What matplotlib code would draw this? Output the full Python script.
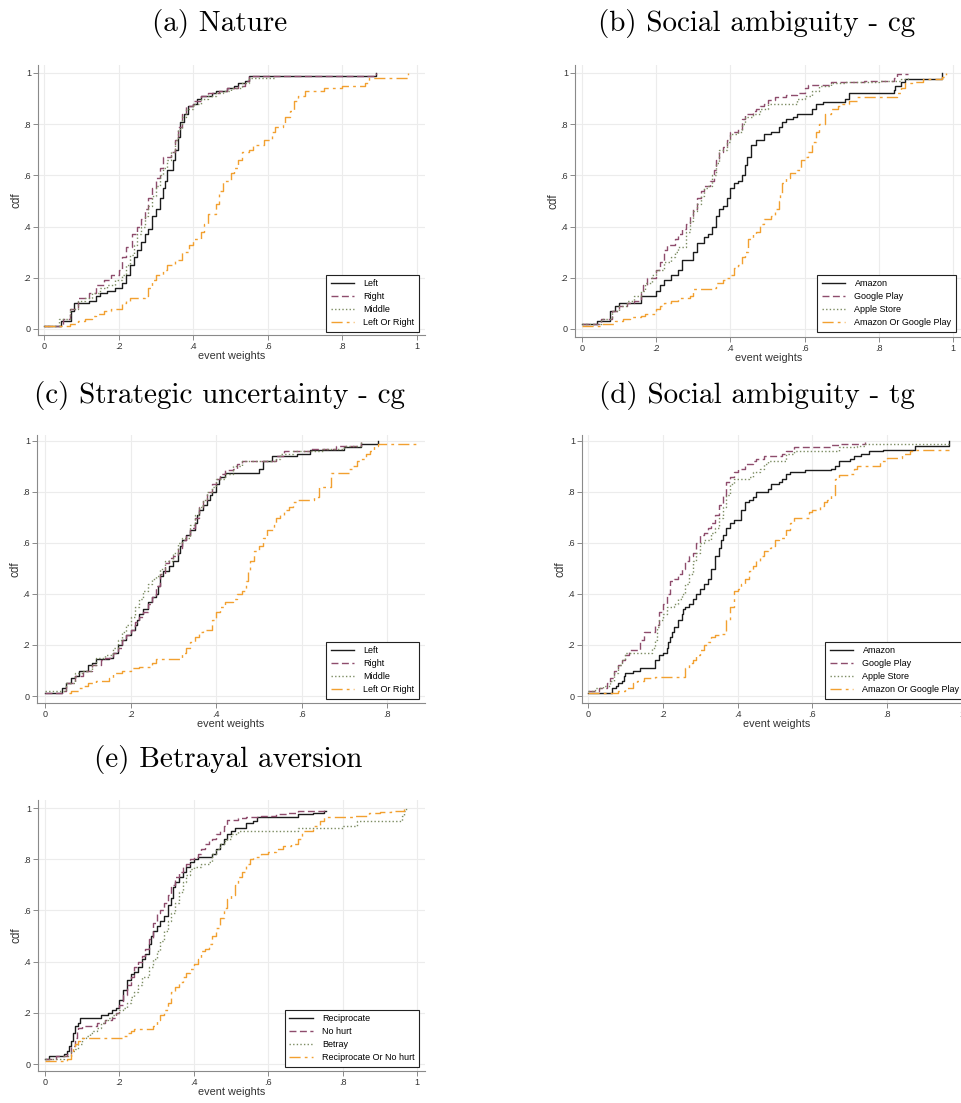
import matplotlib
matplotlib.use('Agg')
import matplotlib.pyplot as plt

# ---- data: empirical cdf steps (x = event weight, y = cdf) ----
# (a) Nature
a_left_x = [0, 0.045, 0.072, 0.08, 0.12, 0.14, 0.15, 0.17, 0.19, 0.21, 0.22, 0.23, 0.24, 0.25, 0.26, 0.27, 0.28, 0.29, 0.30, 0.31,
            0.32, 0.325, 0.33, 0.345, 0.35, 0.36, 0.365, 0.375, 0.385, 0.40, 0.41, 0.42, 0.45, 0.46, 0.49, 0.51, 0.52, 0.54, 0.55, 0.89]
a_left_y = [0.01, 0.03, 0.07, 0.10, 0.11, 0.13, 0.14, 0.15, 0.16, 0.18, 0.21, 0.25, 0.28, 0.31, 0.34, 0.37, 0.39, 0.44, 0.47, 0.51,
            0.55, 0.58, 0.62, 0.66, 0.70, 0.75, 0.81, 0.84, 0.87, 0.88, 0.90, 0.91, 0.92, 0.93, 0.94, 0.95, 0.96, 0.97, 0.99, 1.0]
a_right_x = [0, 0.05, 0.07, 0.09, 0.12, 0.14, 0.16, 0.18, 0.20, 0.21, 0.22, 0.235, 0.25, 0.26, 0.27, 0.28, 0.29, 0.30, 0.31, 0.32,
             0.34, 0.35, 0.36, 0.37, 0.38, 0.40, 0.42, 0.44, 0.47, 0.49, 0.52, 0.54, 0.55, 0.89]
a_right_y = [0.01, 0.04, 0.08, 0.12, 0.14, 0.17, 0.19, 0.21, 0.23, 0.28, 0.32, 0.37, 0.40, 0.43, 0.47, 0.51, 0.55, 0.59, 0.63, 0.67,
             0.69, 0.74, 0.79, 0.84, 0.87, 0.89, 0.91, 0.92, 0.93, 0.94, 0.95, 0.97, 0.99, 1.0]
a_mid_x = [0, 0.04, 0.07, 0.09, 0.11, 0.13, 0.15, 0.17, 0.19, 0.21, 0.22, 0.23, 0.24, 0.25, 0.26, 0.27, 0.28, 0.29, 0.30, 0.31,
           0.32, 0.33, 0.34, 0.35, 0.36, 0.37, 0.38, 0.40, 0.42, 0.44, 0.46, 0.48, 0.50, 0.53, 0.55, 0.62]
a_mid_y = [0.01, 0.04, 0.08, 0.11, 0.12, 0.14, 0.16, 0.17, 0.19, 0.21, 0.25, 0.29, 0.33, 0.37, 0.40, 0.44, 0.48, 0.52, 0.56, 0.60,
           0.63, 0.66, 0.69, 0.74, 0.78, 0.83, 0.86, 0.88, 0.90, 0.91, 0.92, 0.93, 0.94, 0.96, 0.98, 0.98]
a_or_x = [0, 0.06, 0.07, 0.09, 0.11, 0.13, 0.14, 0.16, 0.18, 0.21, 0.22, 0.23, 0.27, 0.28, 0.29, 0.30, 0.32, 0.33, 0.35, 0.37,
          0.39, 0.40, 0.42, 0.43, 0.44, 0.46, 0.47, 0.48, 0.50, 0.51, 0.52, 0.53, 0.55, 0.56, 0.59, 0.61, 0.62, 0.64, 0.645, 0.66,
          0.67, 0.68, 0.70, 0.75, 0.80, 0.86, 0.87, 0.975]
a_or_y = [0.01, 0.01, 0.02, 0.03, 0.04, 0.05, 0.06, 0.07, 0.08, 0.10, 0.11, 0.12, 0.13, 0.16, 0.19, 0.21, 0.23, 0.25, 0.27, 0.30,
          0.33, 0.35, 0.38, 0.41, 0.45, 0.49, 0.54, 0.58, 0.61, 0.63, 0.66, 0.69, 0.70, 0.72, 0.74, 0.77, 0.79, 0.80, 0.83, 0.85,
          0.89, 0.91, 0.93, 0.94, 0.95, 0.96, 0.98, 1.0]

# (b) Social ambiguity - cg
b_amz_x = [0, 0.04, 0.075, 0.09, 0.10, 0.16, 0.20, 0.21, 0.22, 0.24, 0.26, 0.27, 0.30, 0.31, 0.33, 0.34, 0.35, 0.36, 0.37, 0.38,
           0.39, 0.40, 0.41, 0.42, 0.43, 0.44, 0.445, 0.455, 0.47, 0.49, 0.51, 0.53, 0.54, 0.55, 0.57, 0.58, 0.62, 0.63, 0.65, 0.71,
           0.72, 0.84, 0.845, 0.86, 0.87, 0.97]
b_amz_y = [0.02, 0.03, 0.07, 0.09, 0.10, 0.13, 0.15, 0.17, 0.19, 0.21, 0.23, 0.27, 0.30, 0.335, 0.36, 0.37, 0.40, 0.44, 0.47, 0.48,
           0.51, 0.55, 0.57, 0.58, 0.60, 0.64, 0.67, 0.72, 0.74, 0.76, 0.77, 0.79, 0.81, 0.82, 0.83, 0.84, 0.86, 0.88, 0.885, 0.90,
           0.92, 0.935, 0.95, 0.965, 0.975, 1.0]
b_gp_x = [0, 0.05, 0.08, 0.10, 0.12, 0.14, 0.16, 0.165, 0.175, 0.20, 0.21, 0.22, 0.23, 0.25, 0.26, 0.27, 0.28, 0.29, 0.30, 0.31,
          0.32, 0.33, 0.345, 0.355, 0.36, 0.37, 0.38, 0.39, 0.40, 0.42, 0.43, 0.44, 0.46, 0.47, 0.48, 0.49, 0.50, 0.52, 0.55, 0.58,
          0.60, 0.61, 0.67, 0.76, 0.84, 0.85, 0.88]
b_gp_y = [0.02, 0.04, 0.07, 0.09, 0.10, 0.11, 0.14, 0.17, 0.20, 0.23, 0.26, 0.31, 0.33, 0.35, 0.37, 0.39, 0.41, 0.44, 0.47, 0.51,
          0.54, 0.56, 0.58, 0.62, 0.66, 0.69, 0.71, 0.74, 0.77, 0.78, 0.82, 0.84, 0.85, 0.86, 0.87, 0.88, 0.895, 0.905, 0.915, 0.92,
          0.94, 0.955, 0.965, 0.97, 0.98, 0.995, 0.995]
b_as_x = [0, 0.05, 0.08, 0.10, 0.12, 0.14, 0.16, 0.17, 0.19, 0.20, 0.22, 0.24, 0.25, 0.26, 0.28, 0.29, 0.30, 0.31, 0.32, 0.33,
          0.34, 0.35, 0.36, 0.37, 0.39, 0.40, 0.42, 0.43, 0.44, 0.46, 0.48, 0.50, 0.58, 0.60, 0.62, 0.64, 0.67, 0.71, 0.80, 0.86,
          0.88]
b_as_y = [0.02, 0.04, 0.07, 0.09, 0.11, 0.13, 0.15, 0.18, 0.21, 0.23, 0.26, 0.28, 0.30, 0.32, 0.38, 0.42, 0.46, 0.49, 0.52, 0.55,
          0.56, 0.60, 0.65, 0.70, 0.73, 0.76, 0.77, 0.80, 0.83, 0.84, 0.86, 0.88, 0.90, 0.91, 0.93, 0.95, 0.96, 0.965, 0.97, 0.975,
          0.98]
b_or_x = [0, 0.055, 0.09, 0.11, 0.13, 0.16, 0.17, 0.20, 0.21, 0.22, 0.24, 0.26, 0.29, 0.30, 0.35, 0.36, 0.38, 0.39, 0.40, 0.41,
          0.42, 0.43, 0.44, 0.448, 0.46, 0.47, 0.48, 0.49, 0.51, 0.52, 0.53, 0.535, 0.54, 0.55, 0.56, 0.58, 0.59, 0.60, 0.61, 0.62,
          0.63, 0.64, 0.655, 0.67, 0.69, 0.70, 0.72, 0.74, 0.85, 0.86, 0.87, 0.89, 0.92, 0.97, 0.98]
b_or_y = [0.01, 0.02, 0.03, 0.04, 0.045, 0.05, 0.06, 0.08, 0.09, 0.10, 0.11, 0.12, 0.13, 0.155, 0.16, 0.18, 0.19, 0.20, 0.21, 0.24,
          0.25, 0.28, 0.30, 0.35, 0.37, 0.38, 0.41, 0.43, 0.44, 0.47, 0.50, 0.53, 0.57, 0.59, 0.61, 0.62, 0.66, 0.67, 0.69, 0.73,
          0.77, 0.80, 0.84, 0.86, 0.87, 0.88, 0.89, 0.905, 0.92, 0.94, 0.96, 0.965, 0.975, 0.985, 1.0]

# (c) Strategic uncertainty - cg
c_left_x = [0, 0.04, 0.05, 0.06, 0.07, 0.08, 0.10, 0.11, 0.12, 0.15, 0.16, 0.17, 0.18, 0.19, 0.20, 0.21, 0.215, 0.22, 0.23, 0.24,
            0.25, 0.26, 0.265, 0.27, 0.277, 0.29, 0.30, 0.31, 0.315, 0.32, 0.33, 0.34, 0.35, 0.355, 0.36, 0.37, 0.38, 0.385, 0.39, 0.40,
            0.406, 0.41, 0.42, 0.50, 0.51, 0.53, 0.59, 0.62, 0.70, 0.74, 0.78]
c_left_y = [0.01, 0.03, 0.05, 0.07, 0.08, 0.10, 0.12, 0.13, 0.145, 0.15, 0.17, 0.20, 0.22, 0.24, 0.26, 0.28, 0.30, 0.32, 0.34, 0.37,
            0.39, 0.40, 0.43, 0.47, 0.49, 0.51, 0.53, 0.56, 0.59, 0.61, 0.63, 0.65, 0.68, 0.71, 0.73, 0.75, 0.77, 0.79, 0.80, 0.83,
            0.85, 0.86, 0.875, 0.89, 0.92, 0.94, 0.95, 0.963, 0.975, 0.99, 1.0]
c_right_x = [0, 0.04, 0.05, 0.07, 0.09, 0.11, 0.13, 0.14, 0.16, 0.17, 0.18, 0.19, 0.20, 0.21, 0.22, 0.23, 0.24, 0.25, 0.26, 0.27,
             0.28, 0.29, 0.30, 0.31, 0.32, 0.33, 0.34, 0.35, 0.36, 0.37, 0.38, 0.39, 0.40, 0.41, 0.42, 0.44, 0.45, 0.46, 0.54, 0.56,
             0.62, 0.68, 0.74]
c_right_y = [0.01, 0.02, 0.05, 0.08, 0.10, 0.12, 0.14, 0.15, 0.17, 0.19, 0.22, 0.24, 0.26, 0.29, 0.31, 0.33, 0.36, 0.39, 0.43, 0.48,
             0.52, 0.54, 0.55, 0.58, 0.61, 0.63, 0.66, 0.70, 0.74, 0.77, 0.80, 0.83, 0.85, 0.87, 0.885, 0.89, 0.91, 0.92, 0.94, 0.96,
             0.97, 0.98, 0.995]
c_mid_x = [0, 0.03, 0.05, 0.07, 0.09, 0.11, 0.12, 0.14, 0.16, 0.17, 0.18, 0.19, 0.20, 0.21, 0.22, 0.23, 0.24, 0.25, 0.26, 0.27,
           0.28, 0.30, 0.31, 0.32, 0.34, 0.35, 0.36, 0.37, 0.38, 0.39, 0.40, 0.42, 0.44, 0.46, 0.54, 0.55, 0.58, 0.65, 0.70, 0.74]
c_mid_y = [0.02, 0.02, 0.05, 0.09, 0.10, 0.12, 0.15, 0.16, 0.19, 0.22, 0.25, 0.28, 0.31, 0.35, 0.38, 0.41, 0.44, 0.46, 0.47, 0.50,
           0.53, 0.56, 0.60, 0.62, 0.67, 0.71, 0.74, 0.77, 0.80, 0.82, 0.85, 0.87, 0.90, 0.92, 0.93, 0.95, 0.96, 0.97, 0.98, 0.995]
c_or_x = [0.055, 0.06, 0.08, 0.09, 0.10, 0.12, 0.15, 0.16, 0.18, 0.20, 0.22, 0.25, 0.26, 0.32, 0.33, 0.34, 0.35, 0.36, 0.37, 0.39,
          0.40, 0.41, 0.42, 0.44, 0.45, 0.46, 0.47, 0.475, 0.48, 0.49, 0.50, 0.51, 0.52, 0.535, 0.54, 0.55, 0.56, 0.57, 0.58, 0.59,
          0.63, 0.64, 0.67, 0.71, 0.72, 0.73, 0.74, 0.75, 0.76, 0.77, 0.78, 0.87]
c_or_y = [0.01, 0.02, 0.03, 0.04, 0.05, 0.06, 0.07, 0.09, 0.10, 0.11, 0.115, 0.13, 0.145, 0.17, 0.19, 0.21, 0.23, 0.25, 0.26, 0.30,
          0.33, 0.35, 0.37, 0.38, 0.40, 0.41, 0.45, 0.49, 0.53, 0.57, 0.59, 0.62, 0.65, 0.67, 0.70, 0.71, 0.73, 0.74, 0.76, 0.77,
          0.78, 0.82, 0.875, 0.89, 0.90, 0.92, 0.93, 0.95, 0.96, 0.98, 0.99, 1.0]

# (d) Social ambiguity - tg
d_amz_x = [0, 0.065, 0.075, 0.08, 0.09, 0.095, 0.10, 0.12, 0.14, 0.18, 0.19, 0.20, 0.21, 0.215, 0.22, 0.225, 0.23, 0.24, 0.25, 0.255,
           0.26, 0.27, 0.28, 0.29, 0.30, 0.31, 0.32, 0.33, 0.34, 0.35, 0.355, 0.36, 0.37, 0.38, 0.39, 0.41, 0.42, 0.43, 0.44, 0.45,
           0.48, 0.49, 0.51, 0.52, 0.53, 0.54, 0.58, 0.65, 0.66, 0.67, 0.70, 0.71, 0.73, 0.75, 0.79, 0.875, 0.965]
d_amz_y = [0.01, 0.03, 0.04, 0.05, 0.06, 0.08, 0.09, 0.10, 0.11, 0.14, 0.16, 0.17, 0.19, 0.21, 0.23, 0.25, 0.27, 0.30, 0.32, 0.34,
           0.35, 0.36, 0.38, 0.40, 0.42, 0.44, 0.46, 0.50, 0.55, 0.58, 0.61, 0.63, 0.66, 0.68, 0.69, 0.73, 0.76, 0.77, 0.78, 0.80,
           0.81, 0.83, 0.84, 0.85, 0.87, 0.88, 0.885, 0.89, 0.90, 0.92, 0.93, 0.94, 0.95, 0.96, 0.966, 0.979, 1.0]
d_gp_x = [0, 0.03, 0.05, 0.06, 0.07, 0.08, 0.09, 0.10, 0.11, 0.14, 0.15, 0.18, 0.19, 0.20, 0.21, 0.22, 0.23, 0.24, 0.25, 0.26,
          0.27, 0.28, 0.29, 0.30, 0.31, 0.32, 0.33, 0.34, 0.35, 0.36, 0.37, 0.38, 0.39, 0.40, 0.42, 0.44, 0.45, 0.47, 0.52, 0.53,
          0.55, 0.65, 0.67, 0.74]
d_gp_y = [0.02, 0.03, 0.05, 0.07, 0.10, 0.12, 0.14, 0.16, 0.18, 0.22, 0.25, 0.28, 0.33, 0.36, 0.40, 0.45, 0.46, 0.48, 0.50, 0.53,
          0.55, 0.56, 0.60, 0.63, 0.64, 0.66, 0.68, 0.71, 0.75, 0.79, 0.84, 0.86, 0.88, 0.89, 0.91, 0.92, 0.93, 0.94, 0.95, 0.96,
          0.975, 0.985, 0.99, 0.995]
d_as_x = [0, 0.02, 0.04, 0.06, 0.07, 0.08, 0.09, 0.10, 0.17, 0.18, 0.185, 0.19, 0.20, 0.21, 0.23, 0.24, 0.25, 0.26, 0.27, 0.28,
          0.29, 0.30, 0.31, 0.33, 0.34, 0.35, 0.36, 0.37, 0.38, 0.39, 0.43, 0.44, 0.46, 0.47, 0.48, 0.53, 0.55, 0.67, 0.72, 0.74,
          0.965]
d_as_y = [0.02, 0.03, 0.04, 0.06, 0.09, 0.12, 0.14, 0.17, 0.19, 0.22, 0.27, 0.30, 0.32, 0.35, 0.36, 0.38, 0.40, 0.44, 0.48, 0.53,
          0.56, 0.60, 0.61, 0.64, 0.66, 0.70, 0.74, 0.79, 0.83, 0.85, 0.86, 0.88, 0.89, 0.91, 0.92, 0.95, 0.96, 0.975, 0.98, 0.99,
          0.99]
d_or_x = [0, 0.08, 0.10, 0.12, 0.13, 0.15, 0.18, 0.26, 0.27, 0.28, 0.29, 0.30, 0.31, 0.32, 0.33, 0.34, 0.35, 0.37, 0.38, 0.39,
          0.40, 0.41, 0.42, 0.43, 0.44, 0.45, 0.46, 0.47, 0.48, 0.49, 0.50, 0.51, 0.53, 0.54, 0.55, 0.59, 0.60, 0.62, 0.63, 0.64,
          0.65, 0.66, 0.67, 0.70, 0.71, 0.72, 0.78, 0.80, 0.84, 0.86, 0.87, 0.965]
d_or_y = [0.01, 0.02, 0.03, 0.05, 0.06, 0.07, 0.076, 0.11, 0.13, 0.14, 0.16, 0.18, 0.20, 0.21, 0.23, 0.24, 0.245, 0.30, 0.35, 0.41,
          0.42, 0.44, 0.46, 0.49, 0.51, 0.53, 0.55, 0.57, 0.58, 0.59, 0.61, 0.62, 0.65, 0.68, 0.70, 0.72, 0.73, 0.745, 0.76, 0.77,
          0.79, 0.85, 0.865, 0.87, 0.89, 0.90, 0.92, 0.935, 0.95, 0.96, 0.966, 0.966]

# (e) Betrayal aversion
e_rec_x = [0, 0.01, 0.05, 0.06, 0.065, 0.07, 0.075, 0.08, 0.09, 0.095, 0.15, 0.17, 0.18, 0.19, 0.20, 0.21, 0.22, 0.23, 0.24, 0.25,
           0.26, 0.27, 0.28, 0.285, 0.29, 0.30, 0.31, 0.32, 0.33, 0.34, 0.345, 0.35, 0.36, 0.37, 0.38, 0.39, 0.40, 0.41, 0.45, 0.46,
           0.47, 0.48, 0.49, 0.50, 0.51, 0.54, 0.56, 0.57, 0.68, 0.72, 0.75, 0.755]
e_rec_y = [0.02, 0.03, 0.04, 0.05, 0.07, 0.09, 0.12, 0.15, 0.16, 0.18, 0.19, 0.20, 0.21, 0.22, 0.25, 0.29, 0.33, 0.35, 0.36, 0.38,
           0.41, 0.43, 0.47, 0.50, 0.52, 0.54, 0.56, 0.58, 0.62, 0.65, 0.69, 0.71, 0.73, 0.75, 0.77, 0.79, 0.80, 0.81, 0.82, 0.84,
           0.86, 0.88, 0.90, 0.91, 0.92, 0.94, 0.95, 0.965, 0.975, 0.98, 0.99, 0.99]
e_nh_x = [0, 0.03, 0.06, 0.07, 0.08, 0.085, 0.09, 0.10, 0.14, 0.16, 0.18, 0.19, 0.20, 0.21, 0.22, 0.23, 0.24, 0.25, 0.26, 0.27,
          0.28, 0.29, 0.30, 0.31, 0.32, 0.33, 0.34, 0.35, 0.36, 0.37, 0.38, 0.39, 0.40, 0.41, 0.42, 0.43, 0.44, 0.45, 0.46, 0.47,
          0.48, 0.49, 0.52, 0.54, 0.58, 0.62, 0.65, 0.68, 0.75]
e_nh_y = [0.02, 0.03, 0.04, 0.07, 0.10, 0.13, 0.14, 0.15, 0.16, 0.17, 0.18, 0.20, 0.23, 0.27, 0.31, 0.34, 0.38, 0.40, 0.42, 0.45,
          0.49, 0.55, 0.59, 0.60, 0.63, 0.66, 0.70, 0.73, 0.75, 0.77, 0.78, 0.80, 0.81, 0.82, 0.84, 0.86, 0.87, 0.88, 0.90, 0.91,
          0.93, 0.955, 0.96, 0.965, 0.97, 0.975, 0.98, 0.99, 0.995]
e_bet_x = [0, 0.05, 0.07, 0.08, 0.09, 0.10, 0.11, 0.12, 0.13, 0.14, 0.15, 0.16, 0.17, 0.18, 0.19, 0.20, 0.21, 0.22, 0.23, 0.24,
           0.25, 0.26, 0.28, 0.29, 0.30, 0.31, 0.32, 0.33, 0.34, 0.35, 0.36, 0.37, 0.38, 0.39, 0.40, 0.42, 0.44, 0.45, 0.46, 0.47,
           0.48, 0.49, 0.50, 0.52, 0.68, 0.80, 0.84, 0.96, 0.965, 0.97]
e_bet_y = [0.02, 0.03, 0.05, 0.06, 0.08, 0.10, 0.11, 0.12, 0.13, 0.14, 0.16, 0.17, 0.18, 0.19, 0.20, 0.21, 0.22, 0.24, 0.26, 0.28,
           0.31, 0.34, 0.38, 0.41, 0.44, 0.48, 0.52, 0.56, 0.59, 0.63, 0.67, 0.71, 0.74, 0.76, 0.77, 0.78, 0.79, 0.82, 0.84, 0.86,
           0.87, 0.88, 0.90, 0.91, 0.92, 0.93, 0.95, 0.97, 0.99, 1.0]
e_or_x = [0, 0.06, 0.07, 0.075, 0.08, 0.09, 0.095, 0.21, 0.22, 0.23, 0.24, 0.29, 0.30, 0.31, 0.32, 0.33, 0.34, 0.35, 0.36, 0.37,
          0.38, 0.39, 0.40, 0.41, 0.42, 0.43, 0.44, 0.45, 0.46, 0.47, 0.48, 0.49, 0.50, 0.51, 0.52, 0.53, 0.54, 0.55, 0.56, 0.58,
          0.60, 0.62, 0.64, 0.66, 0.68, 0.69, 0.72, 0.74, 0.75, 0.83, 0.87, 0.90, 0.93, 0.965]
e_or_y = [0.01, 0.02, 0.04, 0.07, 0.08, 0.09, 0.10, 0.11, 0.12, 0.13, 0.135, 0.15, 0.17, 0.19, 0.21, 0.24, 0.28, 0.30, 0.32, 0.34,
          0.355, 0.37, 0.39, 0.41, 0.44, 0.45, 0.47, 0.50, 0.53, 0.57, 0.61, 0.645, 0.66, 0.70, 0.73, 0.75, 0.78, 0.80, 0.81, 0.82,
          0.83, 0.84, 0.85, 0.86, 0.88, 0.91, 0.93, 0.95, 0.965, 0.97, 0.98, 0.985, 0.99, 1.0]

titles = ['(a) Nature', '(b) Social ambiguity - cg', '(c) Strategic uncertainty - cg',
          '(d) Social ambiguity - tg', '(e) Betrayal aversion']
labels_lr = ['Left', 'Right', 'Middle', 'Left Or Right']
labels_app = ['Amazon', 'Google Play', 'Apple Store', 'Amazon Or Google Play']
labels_trust = ['Reciprocate', 'No hurt', 'Betray', 'Reciprocate Or No hurt']
xtick_vals = [0, 0.2, 0.4, 0.6, 0.8, 1]
xtick_text = ['0', '.2', '.4', '.6', '.8', '1']

# line looks (Stata-like)
styles = [dict(color='#1c1c1c', ls='-'),
          dict(color='#8e4c6c', ls=(0, (5, 2.5))),
          dict(color='#7c8c62', ls=(0, (1, 1.6))),
          dict(color='#f2a030', ls=(0, (8, 3, 2, 3)))]

W, H = 961, 1103
fig = plt.figure(figsize=(W / 100, H / 100), dpi=100)

# pixel layout: left, right, top, bottom of plot box; x0/xscale; y0/y1 rows
panels = [
    dict(box=(38, 425, 65, 335), x0=44, xk=373, y0=329, y1=73, xmax=1.0,
         series=[(a_left_x, a_left_y), (a_right_x, a_right_y), (a_mid_x, a_mid_y), (a_or_x, a_or_y)],
         labels=labels_lr, leg=(419, 332), title_xy=(220, 23)),
    dict(box=(575, 962, 65, 337), x0=582, xk=371, y0=329, y1=73, xmax=1.0,
         series=[(b_amz_x, b_amz_y), (b_gp_x, b_gp_y), (b_as_x, b_as_y), (b_or_x, b_or_y)],
         labels=labels_app, leg=(956, 332), title_xy=(757, 23)),
    dict(box=(37, 425, 435, 703), x0=45, xk=427.5, y0=696, y1=441, xmax=0.8,
         series=[(c_left_x, c_left_y), (c_right_x, c_right_y), (c_mid_x, c_mid_y), (c_or_x, c_or_y)],
         labels=labels_lr, leg=(419, 699), title_xy=(220, 396)),
    dict(box=(582, 972, 435, 703), x0=588, xk=374, y0=696, y1=441, xmax=1.0,
         series=[(d_amz_x, d_amz_y), (d_gp_x, d_gp_y), (d_as_x, d_as_y), (d_or_x, d_or_y)],
         labels=labels_app, leg=(964, 699), title_xy=(757, 396)),
    dict(box=(38, 425, 800, 1071), x0=45, xk=372, y0=1064, y1=808, xmax=1.0,
         series=[(e_rec_x, e_rec_y), (e_nh_x, e_nh_y), (e_bet_x, e_bet_y), (e_or_x, e_or_y)],
         labels=labels_trust, leg=(419, 1067), title_xy=(228, 759)),
]

for p, title in zip(panels, titles):
    l, r, t, b = p['box']
    ax = fig.add_axes([l / W, 1 - b / H, (r - l) / W, (b - t) / H])
    ax.set_xlim((l - p['x0']) / p['xk'], (r - p['x0']) / p['xk'])
    yk = p['y0'] - p['y1']
    ax.set_ylim((p['y0'] - b) / yk, (p['y0'] - t) / yk)

    for (xs, ys), st, lab in zip(p['series'], styles, p['labels']):
        ax.step(xs, ys, where='post', lw=1.0, label=lab, **st)

    n = 6 if p['xmax'] == 1.0 else 5
    ax.set_xticks(xtick_vals[:n])
    ax.set_xticklabels(xtick_text[:n])
    ax.set_yticks(xtick_vals)
    ax.set_yticklabels(xtick_text)
    ax.grid(True, color='#ececec', lw=0.8)
    ax.set_axisbelow(True)
    for s in ['top', 'right']:
        ax.spines[s].set_visible(False)
    for s in ['left', 'bottom']:
        ax.spines[s].set_color('#8a8a8a')
        ax.spines[s].set_linewidth(0.8)
    ax.tick_params(direction='out', length=3.5, width=0.7, color='#8a8a8a',
                   labelsize=6.5, labelcolor='#333333', pad=1.5)
    for lab in ax.get_xticklabels() + ax.get_yticklabels():
        lab.set_family('Liberation Sans')
    ax.set_ylabel('cdf', fontsize=8.5, family='Liberation Sans', color='#333333', labelpad=1)
    ax.set_xlabel('event weights', fontsize=7.8, family='Liberation Sans', color='#333333', labelpad=0)

    lx, ly = p['leg']
    leg = ax.legend(loc='lower right', bbox_to_anchor=(lx / W, 1 - ly / H),
                    bbox_transform=fig.transFigure, borderaxespad=0,
                    prop=dict(family='Liberation Sans', size=6.5),
                    handlelength=2.6, handletextpad=1.0, borderpad=0.5, labelspacing=0.45,
                    fancybox=False, framealpha=1, edgecolor='#222222')
    leg.get_frame().set_linewidth(0.8)

    tx, ty = p['title_xy']
    fig.text(tx / W, 1 - ty / H, title, ha='center', va='center', fontsize=21, family='cmr10')

fig.savefig('out.png', dpi=100)
